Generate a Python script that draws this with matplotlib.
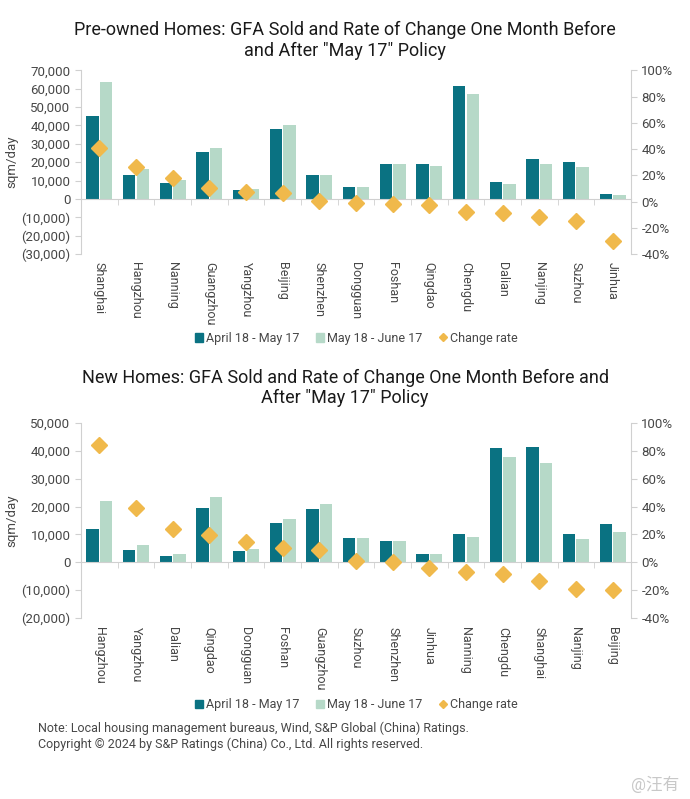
import numpy as np
import matplotlib
matplotlib.use("Agg")
from matplotlib import pyplot as plt
from matplotlib.ticker import FuncFormatter, MultipleLocator
from matplotlib.lines import Line2D
from matplotlib.patches import Patch

plt.rcParams['font.family'] = ['Roboto', 'Noto Sans CJK SC', 'DejaVu Sans']

# ---------------- data: pre-owned homes ----------------
pre_cities = ["Shanghai", "Hangzhou", "Nanning", "Guangzhou", "Yangzhou", "Beijing",
              "Shenzhen", "Dongguan", "Foshan", "Qingdao", "Chengdu", "Dalian",
              "Nanjing", "Suzhou", "Jinhua"]
pre_before = [45200, 13000, 8900, 25300, 5100, 38300, 13000, 6700, 19200, 18800,
              61700, 9000, 22000, 20300, 2900]
pre_after = [63700, 16300, 10500, 27800, 5400, 40500, 13000, 6700, 18800, 18100,
             57000, 8300, 19200, 17200, 2000]
pre_rate = [40.5, 26.3, 18.0, 10.6, 7.6, 6.3, 0.5, -0.8, -2.0, -2.5,
            -7.6, -8.4, -11.6, -15.0, -30.4]

# ---------------- data: new homes ----------------
new_cities = ["Hangzhou", "Yangzhou", "Dalian", "Qingdao", "Dongguan", "Foshan",
              "Guangzhou", "Suzhou", "Shenzhen", "Jinhua", "Nanning", "Chengdu",
              "Shanghai", "Nanjing", "Beijing"]
new_before = [12000, 4400, 2400, 19500, 4200, 14000, 19100, 8900, 7700, 3100,
              10000, 41200, 41500, 10200, 13700]
new_after = [22100, 6100, 2900, 23400, 4800, 15500, 20900, 8900, 7700, 3000,
             9200, 37800, 35700, 8300, 10900]
new_rate = [84.6, 38.8, 24.0, 19.4, 14.4, 10.6, 8.9, 1.0, 0.2, -4.1,
            -6.7, -8.4, -13.7, -19.2, -19.9]

legend_labels = ["April 18 - May 17", "May 18 - June 17", "Change rate"]

DARK = "#0a7282"
LIGHT = "#b6d9c8"
GOLD = "#f0b94b"
AXIS = "#d0d0d0"
TXT = "#474747"


def num_fmt(v, pos):
    if v < 0:
        return "({:,.0f})".format(-v)
    return "{:,.0f}".format(v)


def draw_panel(ax, cities, before, after, rate, ylim, rlim, legend_y):
    x = np.arange(len(cities))
    w = 0.34
    ax.bar(x - 0.185, before, w, color=DARK, zorder=2)
    ax.bar(x + 0.185, after, w, color=LIGHT, zorder=2)
    ax.set_xlim(-0.5, len(cities) - 0.5)
    ax.set_ylim(*ylim)
    ax.yaxis.set_major_locator(MultipleLocator(10000))
    ax.yaxis.set_major_formatter(FuncFormatter(num_fmt))

    # zero line with category separators
    ax.spines['bottom'].set_position(('data', 0))
    ax.spines['bottom'].set_color(AXIS)
    ax.set_xticks(x)
    ax.set_xticklabels([])
    ax.tick_params(axis='x', which='major', length=0)
    ax.set_xticks(np.arange(len(cities) + 1) - 0.5, minor=True)
    ax.tick_params(axis='x', which='minor', length=4, color=AXIS, direction='out')
    for i, c in enumerate(cities):
        ax.text(i, -0.045, c, transform=ax.get_xaxis_transform(), rotation=-90,
                ha='center', va='top', fontsize=9, color=TXT)

    ax.spines['top'].set_visible(False)
    ax.spines['right'].set_visible(False)
    ax.spines['left'].set_color(AXIS)
    ax.tick_params(axis='y', colors=AXIS, labelcolor=TXT, labelsize=9.5, length=4)
    ax.set_ylabel("sqm/day", fontsize=9.5, color=TXT, labelpad=2)

    ax2 = ax.twinx()
    ax2.plot(x, rate, linestyle='none', marker='D', ms=8.5, color=GOLD, zorder=3)
    ax2.set_ylim(*rlim)
    ax2.yaxis.set_major_locator(MultipleLocator(20))
    ax2.yaxis.set_major_formatter(FuncFormatter(lambda v, p: "{:.0f}%".format(v)))
    for s in ['top', 'left', 'bottom']:
        ax2.spines[s].set_visible(False)
    ax2.spines['right'].set_color(AXIS)
    ax2.tick_params(axis='y', colors=AXIS, labelcolor=TXT, labelsize=9.5, length=4)

    handles = [Patch(color=DARK), Patch(color=LIGHT),
               Line2D([], [], linestyle='none', marker='D', ms=4, color=GOLD)]
    ax.legend(handles, legend_labels, loc='center', bbox_to_anchor=(0.5, legend_y),
              ncol=3, frameon=False, fontsize=9, handlelength=0.7, handleheight=0.7,
              handletextpad=0.2, columnspacing=1.3, labelcolor=TXT)
    return ax2


fig = plt.figure(figsize=(6.9, 7.99), dpi=100)
ax_top = fig.add_axes([0.1174, 0.682, 0.797, 0.230])
ax_bot = fig.add_axes([0.1174, 0.2265, 0.797, 0.244])

draw_panel(ax_top, pre_cities, pre_before, pre_after, pre_rate,
           (-30000, 70000), (-40, 100), -0.457)
draw_panel(ax_bot, new_cities, new_before, new_after, new_rate,
           (-20000, 50000), (-40, 100), -0.446)

fig.text(0.5, 0.949,
         'Pre-owned Homes: GFA Sold and Rate of Change One Month Before\nand After "May 17" Policy',
         ha='center', va='center', fontsize=13, color="#1a1a1a", linespacing=1.2)
fig.text(0.5, 0.5144,
         'New Homes: GFA Sold and Rate of Change One Month Before and\nAfter "May 17" Policy',
         ha='center', va='center', fontsize=13, color="#1a1a1a", linespacing=1.2)

fig.text(0.055, 0.089, "Note: Local housing management bureaus, Wind, S&P Global (China) Ratings.",
         fontsize=9, color=TXT, va='center')
fig.text(0.055, 0.068, "Copyright \u00a9 2024 by S&P Ratings (China) Co., Ltd. All rights reserved.",
         fontsize=9, color=TXT, va='center')
fig.text(0.985, 0.018, "@汪有", fontsize=12, color="#c8c8c8", ha='right', va='center')

fig.savefig("out.png", dpi=100)
